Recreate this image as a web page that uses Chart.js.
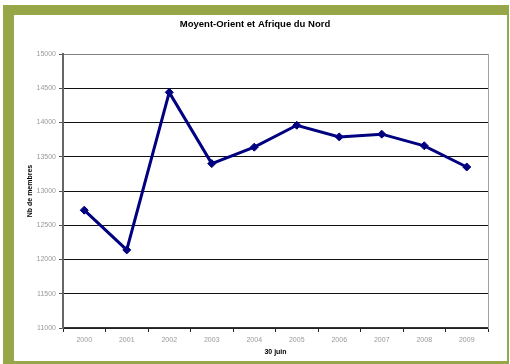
<!DOCTYPE html>
<html>
<head>
<meta charset="utf-8">
<script src="https://cdn.jsdelivr.net/npm/chart.js@4/dist/chart.umd.min.js"></script>
<style>
  html, body { margin: 0; padding: 0; background: #ffffff; }
  canvas { display: block; }
</style>
</head>
<body>
<canvas id="chart" width="510" height="364"></canvas>
<script>
// Members on 30 June, Middle East & North Africa
const years = ['2000', '2001', '2002', '2003', '2004', '2005', '2006', '2007', '2008', '2009'];
const members = [12720, 12140, 14440, 13400, 13640, 13960, 13790, 13830, 13660, 13350];
const yTicks = [11000, 11500, 12000, 12500, 13000, 13500, 14000, 14500, 15000];

const FONT = '"Liberation Sans", Arial, sans-serif';
const OLIVE = '#97a646';

// Olive frame around the white panel
const framePlugin = {
  id: 'frame',
  beforeDraw(chart) {
    const ctx = chart.ctx;
    ctx.save();
    ctx.fillStyle = '#ffffff';
    ctx.fillRect(0, 0, chart.width, chart.height);
    ctx.fillStyle = OLIVE;
    ctx.fillRect(3, 5, 506, 359);
    ctx.fillStyle = '#ffffff';
    ctx.fillRect(14, 15, 493, 346);
    ctx.restore();
  }
};

new Chart(document.getElementById('chart'), {
  type: 'line',
  data: {
    labels: years,
    datasets: [{
      data: members,
      borderColor: '#000080',
      backgroundColor: '#000080',
      borderWidth: 3,
      tension: 0,
      pointStyle: 'rectRot',
      pointRadius: 4,
      pointBackgroundColor: '#000080',
      pointBorderColor: '#000080',
      pointBorderWidth: 1
    }]
  },
  options: {
    responsive: false,
    animation: false,
    devicePixelRatio: 1,
    layout: { padding: { top: 0, left: 0, right: 0, bottom: 0 } },
    plugins: {
      legend: { display: false },
      tooltip: { enabled: false },
      title: {
        display: true,
        text: 'Moyent-Orient et Afrique du Nord',
        color: '#000000',
        font: { family: FONT, size: 9.5, weight: 'bold', lineHeight: 1.2 },
        padding: { top: 19, bottom: 23.6 }
      }
    },
    scales: {
      x: {
        type: 'category',
        offset: true,
        afterFit(s) { s.height = 36; },
        grid: {
          offset: true,
          drawOnChartArea: false,
          drawTicks: true,
          tickLength: 4,
          color: '#222222',
          lineWidth: 1
        },
        border: { display: true, color: '#333333', width: 1.5 },
        ticks: {
          color: '#999999',
          padding: 4,
          maxRotation: 0,
          font: { family: FONT, size: 7 }
        },
        title: {
          display: true,
          text: '30 juin',
          color: '#000000',
          font: { family: FONT, size: 7, weight: 'bold', lineHeight: 1.2 },
          padding: { top: 0, bottom: 7.8 }
        }
      },
      y: {
        type: 'linear',
        position: 'left',
        min: yTicks[0],
        max: yTicks[yTicks.length - 1],
        afterFit(s) { s.width = 63; },
        afterBuildTicks(s) { s.ticks = yTicks.map(v => ({ value: v })); },
        grid: {
          drawOnChartArea: true,
          drawTicks: true,
          tickLength: 4,
          color: (c) => (c.tick && c.tick.value === 15000) ? '#808080' : '#111111',
          tickColor: '#555555',
          lineWidth: 1
        },
        border: { display: true, color: '#666666', width: 2 },
        ticks: {
          color: '#999999',
          padding: 3,
          font: { family: FONT, size: 7 },
          callback: (v) => String(v)
        },
        title: {
          display: true,
          text: 'Nb de membres',
          color: '#000000',
          font: { family: FONT, size: 7, weight: 'bold', lineHeight: 1.2 },
          padding: { top: 26, bottom: 0 }
        }
      },
      // Right-hand frame edge of the plot area
      yRight: {
        type: 'linear',
        position: 'right',
        min: yTicks[0],
        max: yTicks[yTicks.length - 1],
        afterFit(s) { s.width = 22; },
        grid: { display: false, drawOnChartArea: false, drawTicks: false },
        border: { display: true, color: '#a0a0a0', width: 1 },
        ticks: { display: false }
      }
    }
  },
  plugins: [framePlugin]
});
</script>
</body>
</html>
